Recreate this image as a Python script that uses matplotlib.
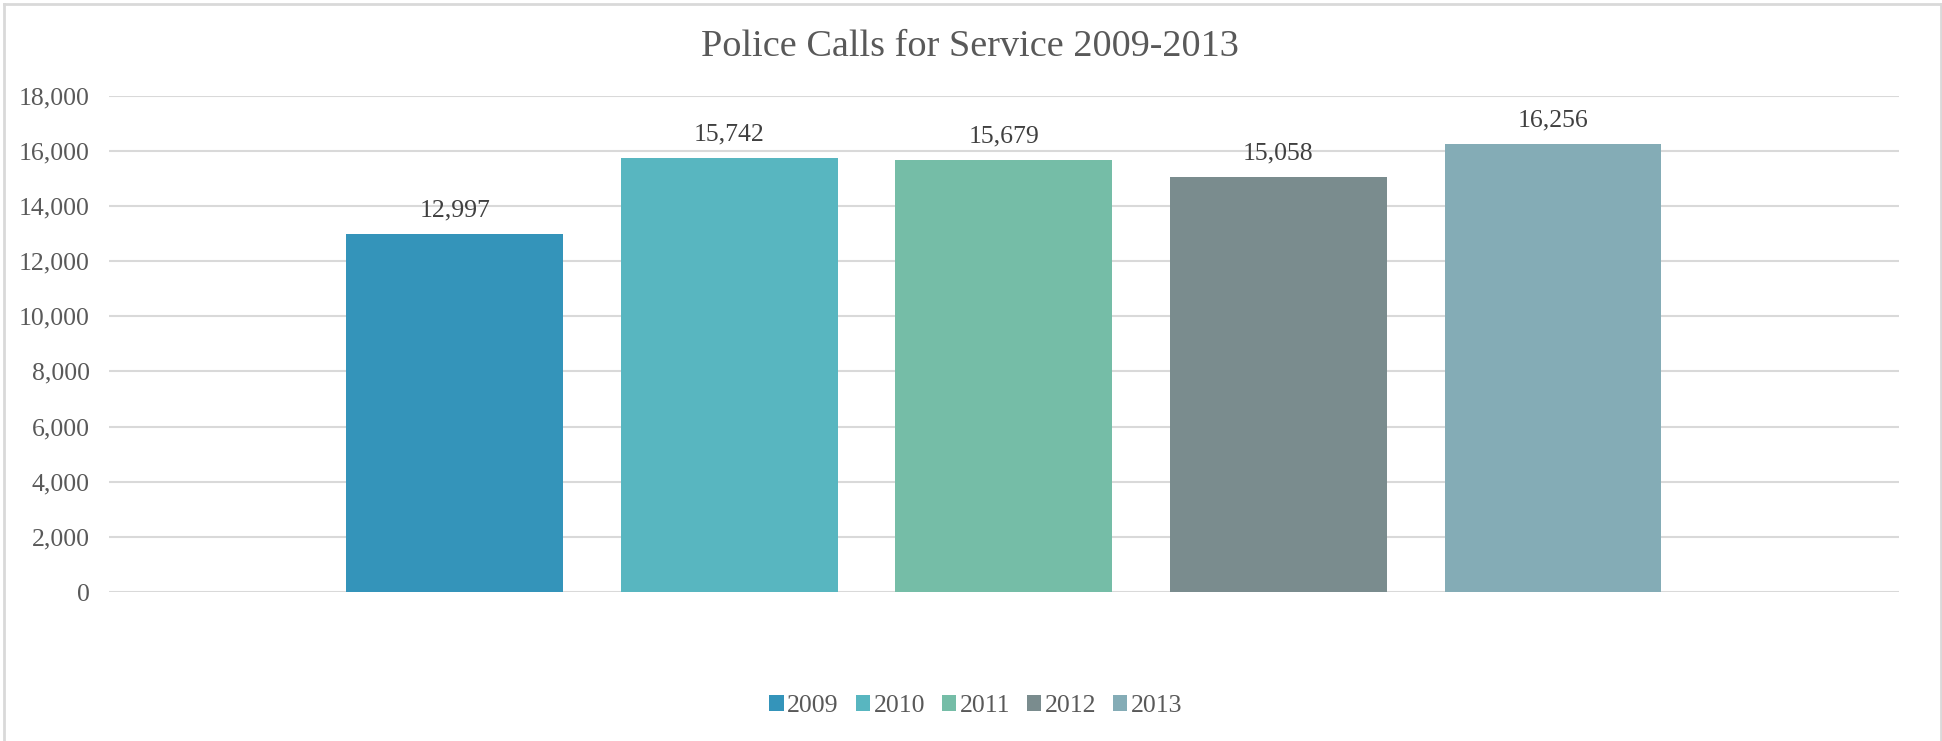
import matplotlib.pyplot as plt
from matplotlib.patches import Patch
from matplotlib.lines import Line2D
from matplotlib.ticker import FuncFormatter

years = ['2009', '2010', '2011', '2012', '2013']
calls = [12997, 15742, 15679, 15058, 16256]
bar_colors = ['#3494BA', '#58B6C0', '#75BDA7', '#7A8C8E', '#84ACB6']
y_ticks = [0, 2000, 4000, 6000, 8000, 10000, 12000, 14000, 16000, 18000]

plt.rcParams['font.family'] = ['Liberation Serif', 'DejaVu Serif']

fig = plt.figure(figsize=(19.42, 7.41), dpi=100)
ax = fig.add_axes([0.0561, 0.201, 0.9217, 0.670])

x = list(range(len(years)))
bars = ax.bar(x, calls, width=0.79, color=bar_colors, zorder=3)

# value labels above each bar
for b, v in zip(bars, calls):
    ax.annotate(f'{v:,}', (b.get_x() + b.get_width() / 2, v),
                xytext=(0, 12), textcoords='offset pixels',
                ha='center', va='bottom', fontsize=18.5, color='#404040')

ax.set_xlim(-1.26, 5.26)
ax.set_ylim(0, 18000)
ax.set_yticks(y_ticks)
ax.yaxis.set_major_formatter(FuncFormatter(lambda v, p: f'{int(v):,}'))
ax.set_xticks([])
ax.tick_params(axis='y', length=0, pad=14, labelsize=18.5, labelcolor='#595959')
ax.grid(axis='y', color='#D9D9D9', linewidth=1.5, zorder=0)
for s in ax.spines.values():
    s.set_visible(False)

fig.text(0.4995, 1 - 47 / 741, 'Police Calls for Service 2009-2013',
         ha='center', va='center', fontsize=27.5, color='#595959')

handles = [Patch(facecolor=c, edgecolor='none') for c in bar_colors]
fig.legend(handles, years, loc='center', bbox_to_anchor=(976 / 1942, 1 - 706 / 741),
           ncol=5, frameon=False, fontsize=18.5, handlelength=0.55, handleheight=0.55,
           handletextpad=0.15, columnspacing=0.65, labelcolor='#595959')

# chart border
bc = '#D9D9D9'
fig.add_artist(Line2D([0.002, 0.002], [0, 0.994], transform=fig.transFigure, color=bc, lw=2))
fig.add_artist(Line2D([0.002, 0.9993], [0.994, 0.994], transform=fig.transFigure, color=bc, lw=2))
fig.add_artist(Line2D([0.9993, 0.9993], [0, 0.994], transform=fig.transFigure, color=bc, lw=2))

fig.savefig('out.png', dpi=100, facecolor='white')
